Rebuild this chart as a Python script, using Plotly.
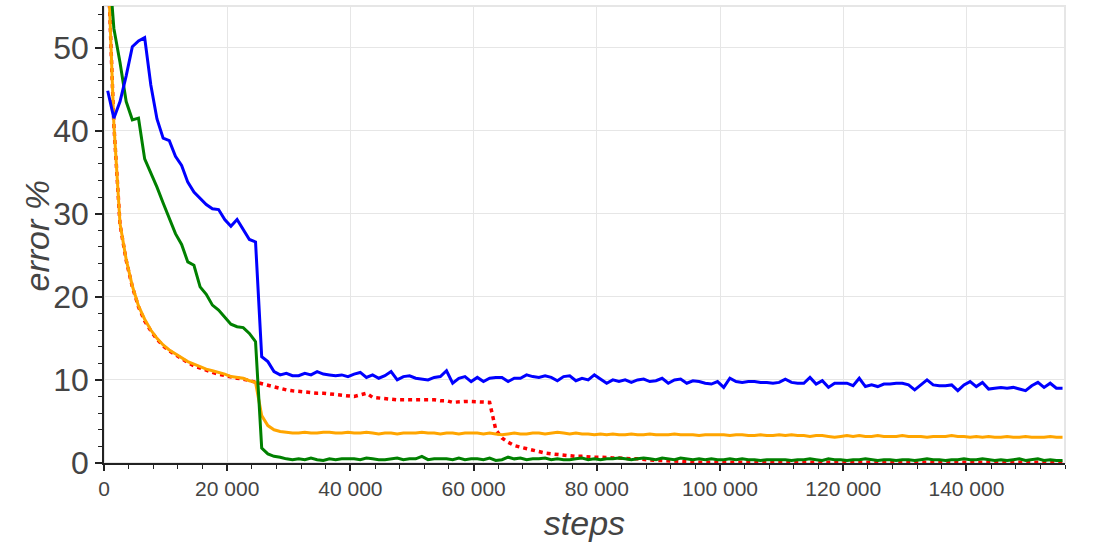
import plotly.graph_objects as go

# x positions of the logged evaluations (every 1000 steps, starting at 600)
steps = list(range(600, 156000, 1000))

blue = [
    44.8, 41.5, 43.5, 46.6, 50.1, 50.8, 51.2, 45.5, 41.4, 39.1,
    38.8, 36.9, 35.8, 33.8, 32.6, 31.9, 31.1, 30.6, 30.5, 29.3,
    28.5, 29.3, 28.1, 26.9, 26.6, 12.8, 12.2, 11.0, 10.6, 10.8,
    10.5, 10.5, 10.8, 10.6, 11.0, 10.7, 10.6, 10.5, 10.6, 10.4,
    10.7, 10.9, 10.3, 10.6, 10.2, 10.5, 11.0, 10.0, 10.4, 10.5,
    10.2, 10.1, 10.0, 10.3, 10.4, 11.1, 9.6, 10.2, 10.4, 9.8,
    10.3, 9.8, 10.2, 10.3, 10.3, 9.8, 10.2, 10.2, 10.6, 10.4,
    10.3, 10.5, 10.3, 9.9, 10.4, 10.5, 9.9, 10.2, 10.0, 10.6,
    10.1, 9.6, 10.0, 9.8, 10.0, 9.7, 10.0, 10.1, 9.8, 9.9,
    10.2, 9.6, 10.0, 10.1, 9.6, 9.9, 9.8, 9.6, 9.5, 9.8,
    9.1, 10.2, 9.8, 9.7, 9.8, 9.8, 9.7, 9.7, 9.6, 9.7,
    10.1, 9.7, 9.6, 9.6, 10.3, 9.5, 9.9, 9.1, 9.6, 9.6,
    9.6, 9.3, 10.2, 9.2, 9.4, 9.2, 9.5, 9.5, 9.6, 9.6,
    9.4, 8.8, 9.4, 10.0, 9.4, 9.3, 9.3, 9.4, 8.7, 9.4,
    9.8, 9.2, 9.7, 8.9, 9.0, 9.1, 9.0, 9.1, 8.9, 8.7,
    9.3, 9.7, 9.1, 9.6, 9.0, 9.0,
]

green = [
    62.0, 52.3, 48.2, 43.5, 41.3, 41.5, 36.6, 35.0, 33.2, 31.3,
    29.5, 27.6, 26.3, 24.2, 23.8, 21.2, 20.3, 19.0, 18.4, 17.5,
    16.7, 16.4, 16.3, 15.6, 14.6, 1.8, 1.1, 0.8, 0.7, 0.5,
    0.4, 0.5, 0.4, 0.6, 0.4, 0.3, 0.5, 0.4, 0.5, 0.5,
    0.5, 0.4, 0.6, 0.5, 0.4, 0.4, 0.5, 0.6, 0.4, 0.5,
    0.5, 0.8, 0.4, 0.5, 0.5, 0.5, 0.4, 0.6, 0.4, 0.5,
    0.5, 0.4, 0.6, 0.3, 0.4, 0.7, 0.5, 0.6, 0.4, 0.5,
    0.5, 0.6, 0.4, 0.5, 0.4, 0.4, 0.5, 0.6, 0.4, 0.5,
    0.4, 0.5, 0.5, 0.6, 0.5, 0.4, 0.5, 0.6, 0.5, 0.4,
    0.6, 0.5, 0.4, 0.6, 0.5, 0.4, 0.5, 0.4, 0.5, 0.4,
    0.4, 0.5, 0.4, 0.5, 0.4, 0.4, 0.3, 0.4, 0.4, 0.4,
    0.4, 0.3, 0.4, 0.4, 0.5, 0.4, 0.3, 0.5, 0.4, 0.4,
    0.3, 0.4, 0.4, 0.5, 0.4, 0.3, 0.4, 0.4, 0.3, 0.4,
    0.4, 0.3, 0.4, 0.5, 0.4, 0.4, 0.3, 0.4, 0.4, 0.5,
    0.4, 0.4, 0.5, 0.4, 0.3, 0.4, 0.3, 0.4, 0.5, 0.3,
    0.4, 0.5, 0.3, 0.4, 0.3, 0.3,
]

orange = [
    61.0, 40.8, 28.8, 24.5, 21.3, 18.9, 17.3, 16.0, 15.0, 14.2,
    13.6, 13.1, 12.6, 12.2, 11.9, 11.6, 11.3, 11.1, 10.9, 10.7,
    10.4, 10.3, 10.2, 9.9, 9.7, 5.7, 4.5, 4.0, 3.8, 3.7,
    3.6, 3.6, 3.7, 3.6, 3.6, 3.7, 3.7, 3.6, 3.6, 3.7,
    3.6, 3.6, 3.7, 3.6, 3.5, 3.6, 3.6, 3.5, 3.6, 3.6,
    3.6, 3.7, 3.6, 3.6, 3.5, 3.6, 3.6, 3.5, 3.6, 3.6,
    3.6, 3.5, 3.6, 3.5, 3.4, 3.5, 3.6, 3.5, 3.5, 3.6,
    3.6, 3.5, 3.6, 3.7, 3.6, 3.5, 3.6, 3.5, 3.5, 3.4,
    3.5, 3.4, 3.5, 3.4, 3.4, 3.5, 3.4, 3.4, 3.5, 3.4,
    3.4, 3.4, 3.5, 3.4, 3.4, 3.4, 3.3, 3.4, 3.4, 3.4,
    3.4, 3.3, 3.4, 3.4, 3.3, 3.3, 3.4, 3.3, 3.3, 3.4,
    3.3, 3.4, 3.3, 3.3, 3.2, 3.3, 3.3, 3.2, 3.1, 3.2,
    3.3, 3.2, 3.3, 3.2, 3.2, 3.3, 3.2, 3.2, 3.2, 3.3,
    3.2, 3.2, 3.2, 3.1, 3.2, 3.2, 3.2, 3.3, 3.2, 3.2,
    3.1, 3.2, 3.1, 3.2, 3.1, 3.1, 3.2, 3.1, 3.1, 3.2,
    3.1, 3.1, 3.1, 3.2, 3.1, 3.1,
]

red = [
    61.0, 40.7, 28.7, 24.4, 21.2, 18.8, 17.1, 15.9, 14.9, 14.1,
    13.5, 13.0, 12.5, 12.1, 11.7, 11.4, 11.1, 10.9, 10.7, 10.5,
    10.3, 10.2, 10.1, 9.9, 9.8, 9.6, 9.3, 9.1, 8.9, 8.8,
    8.7, 8.6, 8.6, 8.5, 8.4, 8.4, 8.3, 8.2, 8.1, 8.1,
    8.0, 8.2, 8.4, 7.9, 7.8, 7.7, 7.6, 7.6, 7.6, 7.6,
    7.7, 7.7, 7.6, 7.6, 7.5, 7.5, 7.3, 7.4, 7.4, 7.4,
    7.4, 7.4, 7.3, 4.0, 3.0, 2.5, 2.1, 1.9, 1.7, 1.5,
    1.3, 1.2, 1.1, 1.0, 0.9, 0.9, 0.8, 0.8, 0.7, 0.7,
    0.7, 0.6, 0.6, 0.6, 0.5, 0.5, 0.5, 0.4, 0.4, 0.3,
    0.3, 0.25, 0.2, 0.2, 0.15, 0.1, 0.1, 0.1, 0.1, 0.1,
    0.1, 0.1, 0.1, 0.1, 0.1, 0.1, 0.1, 0.1, 0.1, 0.1,
    0.1, 0.1, 0.1, 0.1, 0.1, 0.1, 0.1, 0.1, 0.1, 0.1,
    0.1, 0.1, 0.1, 0.1, 0.1, 0.1, 0.1, 0.1, 0.1, 0.1,
    0.1, 0.1, 0.1, 0.1, 0.1, 0.1, 0.1, 0.1, 0.1, 0.1,
    0.1, 0.1, 0.1, 0.1, 0.1, 0.1, 0.1, 0.1, 0.1, 0.1,
    0.1, 0.1, 0.1, 0.1, 0.1, 0.1,
]

x_title = "steps"
y_title = "error %"
y_ticks = [0, 10, 20, 30, 40, 50]
x_ticks = [0, 20000, 40000, 60000, 80000, 100000, 120000, 140000]

FONT = "Liberation Sans, Arial, sans-serif"
TXT = "#444444"
GRID = "#e6e6e6"

fig = go.Figure()
fig.add_trace(go.Scatter(x=steps, y=red, mode="lines",
                         line=dict(color="#ff0000", width=3.5, dash="4px,4px")))
fig.add_trace(go.Scatter(x=steps, y=orange, mode="lines",
                         line=dict(color="#ffa500", width=3)))
fig.add_trace(go.Scatter(x=steps, y=green, mode="lines",
                         line=dict(color="#008000", width=3)))
fig.add_trace(go.Scatter(x=steps, y=blue, mode="lines",
                         line=dict(color="#0000ff", width=3)))

fig.update_layout(
    width=1096, height=548,
    margin=dict(l=104, r=31, t=6, b=85),
    paper_bgcolor="white", plot_bgcolor="white",
    showlegend=False,
    separators=". ",
    font=dict(family=FONT, color=TXT),
    shapes=[dict(type="rect", xref="paper", yref="paper", x0=0, y0=0, x1=1, y1=1,
                 line=dict(color=GRID, width=2), layer="below")],
    annotations=[dict(text=f"<i>{y_title}</i>", xref="paper", yref="paper",
                      x=0, y=0.5, xanchor="center", yanchor="middle",
                      xshift=-68, yshift=-2, textangle=-90, showarrow=False,
                      font=dict(size=34, color=TXT, family=FONT))],
)

fig.update_xaxes(
    range=[0, 156000], tickvals=x_ticks, tickformat=",d",
    showgrid=True, gridcolor=GRID, gridwidth=1,
    showline=True, linecolor="#222222", linewidth=1.5,
    ticks="outside", ticklen=6, tickwidth=1.5, tickcolor="#222222",
    tickfont=dict(size=21, color=TXT),
    minor=dict(dtick=4000, ticks="outside", ticklen=4, tickwidth=1, tickcolor="#222222", showgrid=False),
    title=dict(text=f"<i>{x_title}</i>", font=dict(size=34, color=TXT), standoff=12),
    zeroline=False,
)
fig.update_yaxes(
    range=[0, 55], tickvals=y_ticks,
    showgrid=True, gridcolor=GRID, gridwidth=1,
    showline=True, linecolor="#222222", linewidth=1.5,
    ticks="outside", ticklen=7, tickwidth=1.5, tickcolor="#222222",
    tickfont=dict(size=32, color=TXT),
    minor=dict(dtick=2, ticks="outside", ticklen=4, tickwidth=1, tickcolor="#222222", showgrid=False),
    zeroline=False,
)

fig.write_html("out.html", config={"displayModeBar": False},
               post_script="document.body.style.margin='0px';")
